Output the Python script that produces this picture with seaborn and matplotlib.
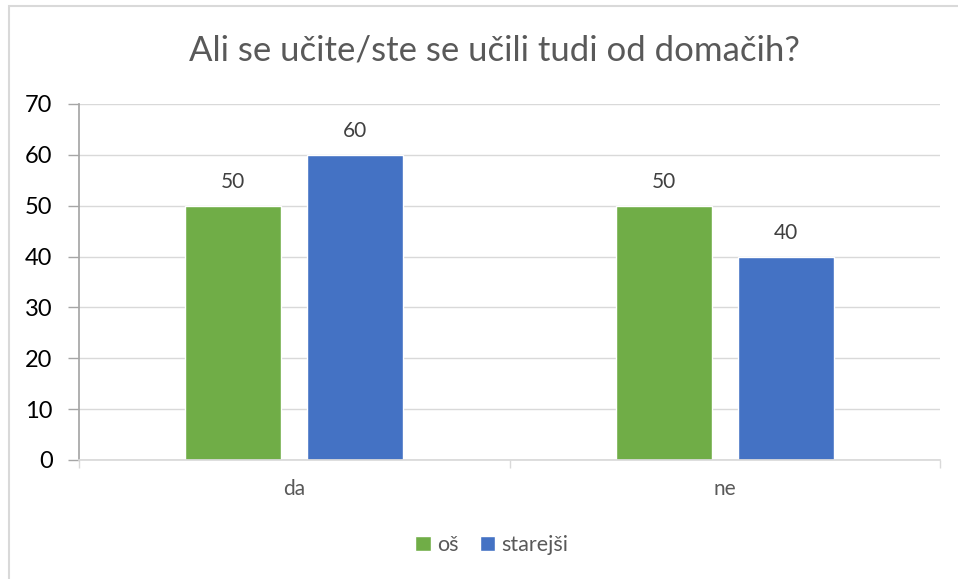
import matplotlib
matplotlib.use("Agg")
import matplotlib.pyplot as plt
import seaborn as sns
import pandas as pd
from matplotlib.patches import Rectangle

categories = ["da", "ne"]
series_names = ["oš", "starejši"]
values_os = [50, 50]
values_starejsi = [60, 40]
title = "Ali se učite/ste se učili tudi od domačih?"
yticks = [0, 10, 20, 30, 40, 50, 60, 70]

df = pd.DataFrame({
    "kategorija": categories * 2,
    "skupina": [series_names[0]] * len(categories) + [series_names[1]] * len(categories),
    "vrednost": values_os + values_starejsi,
})

sns.set_theme(style="white")
plt.rcParams["font.family"] = ["Lato", "DejaVu Sans"]

fig = plt.figure(figsize=(9.58, 5.79), dpi=100)
ax = fig.add_axes([79/958, 119/579, 861/958, 356/579])

palette = {"oš": "#70AD47", "starejši": "#4472C4"}
sns.barplot(data=df, x="kategorija", y="vrednost", hue="skupina",
            palette=palette, width=0.567, gap=0.213, saturation=1,
            ax=ax, legend=True)

ax.set_ylim(0, 70)
ax.set_xlim(-0.5, 1.5)
ax.set_yticks(yticks)
ax.yaxis.grid(True, color="#D9D9D9", linewidth=1)
ax.set_axisbelow(True)
for s in ["top", "right"]:
    ax.spines[s].set_visible(False)
ax.spines["left"].set_color("#A6A6A6")
ax.spines["bottom"].set_color("#D9D9D9")
ax.set_xlabel("")
ax.set_ylabel("")

ax.tick_params(axis="y", which="major", length=8, width=1, color="#A6A6A6",
               labelsize=17, labelcolor="#000000", pad=11, direction="out", left=True)
ax.set_xticks([0, 1])
ax.set_xticklabels(categories)
ax.tick_params(axis="x", which="major", length=0, labelsize=15, labelcolor="#595959", pad=14)
ax.set_xticks([-0.5, 0.5, 1.5], minor=True)
ax.tick_params(axis="x", which="minor", length=6, width=1, color="#D9D9D9", bottom=True)

for cont in ax.containers:
    ax.bar_label(cont, fmt="%d", padding=10, fontsize=15, color="#404040")

handles, labels = ax.get_legend_handles_labels()
ax.legend_.remove()
fig.legend(handles, labels, loc="center", bbox_to_anchor=(492/958, 1 - 545/579),
           ncol=2, frameon=False, fontsize=15.5, handlelength=0.7, handleheight=0.7,
           columnspacing=1.0, handletextpad=0.3, labelcolor="#595959")

fig.text(494/958, 1 - 50/579, title, ha="center", va="center", fontsize=25, color="#595959")

fig.patches.append(Rectangle((9/958, -0.1), 1.2, 1 - 6/579 + 0.1, transform=fig.transFigure,
                             fill=False, edgecolor="#D9D9D9", linewidth=1.5))

fig.savefig("out.png", dpi=100)
